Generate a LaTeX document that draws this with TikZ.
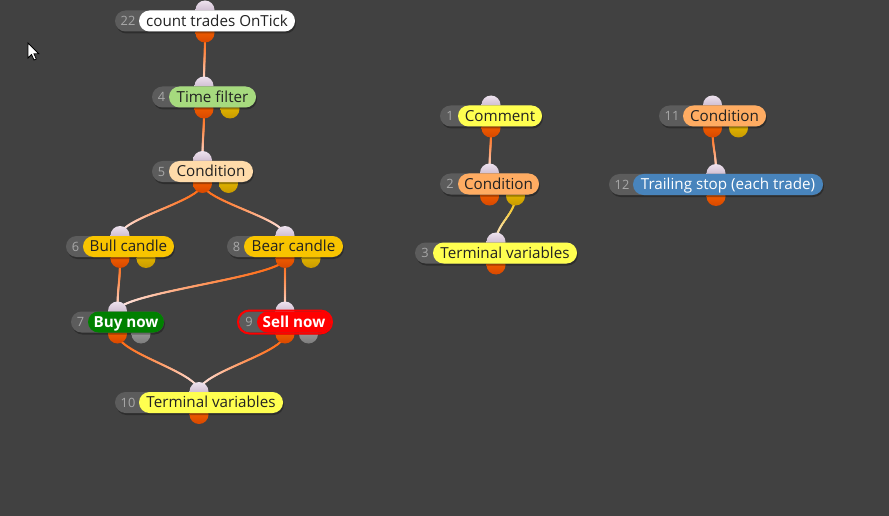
\documentclass[tikz,border=0pt]{standalone}
\usepackage{fontspec}
\setmainfont{Open Sans}
\usetikzlibrary{decorations.markings,calc}
\definecolor{bgc}{HTML}{414141}
\definecolor{numgray}{HTML}{5C5C5C}
\definecolor{numtxt}{HTML}{A8A8A8}
\definecolor{txtdark}{HTML}{222222}
\definecolor{cGreenL}{HTML}{A6DA7E}
\definecolor{cPeach}{HTML}{FFDBAA}
\definecolor{cGold}{HTML}{F8C400}
\definecolor{cGreen}{HTML}{008000}
\definecolor{cRed}{HTML}{FF0000}
\definecolor{cYellow}{HTML}{FFFF50}
\definecolor{cOrange}{HTML}{FFAC62}
\definecolor{cBlue}{HTML}{4884BC}
\definecolor{edgeOr}{HTML}{FF6A12}
\definecolor{edgeYel}{HTML}{F2C418}
\definecolor{edgeEnd}{HTML}{FFEEF0}
\definecolor{inTop}{HTML}{EEE2EE}
\definecolor{inBot}{HTML}{B49EB8}
\definecolor{outTop}{HTML}{FF6A00}
\definecolor{outBot}{HTML}{D84800}
\definecolor{yelTop}{HTML}{F0C400}
\definecolor{yelBot}{HTML}{C89A00}
\definecolor{grTop}{HTML}{A8A8A8}
\definecolor{grBot}{HTML}{7C7C7C}
\pgfdeclarelayer{bgl}
\pgfdeclarelayer{edges}
\pgfsetlayers{bgl,edges,main}
\tikzset{
  circ/.style={circle, minimum size=19pt, inner sep=0pt},
  incirc/.style={circ, top color=inTop, bottom color=inBot},
  outcirc/.style={circ, top color=outTop, bottom color=outBot},
  yelcirc/.style={circ, top color=yelTop, bottom color=yelBot, xshift=1pt},
  graycirc/.style={circ, top color=grTop, bottom color=grBot, xshift=-1.5pt},
  nocirc/.style={circ},
  shadowpill/.style={rectangle, rounded corners=10.5pt, minimum height=21pt, inner sep=0pt, fill=black, fill opacity=0.3},
  numpill/.style={rectangle, rounded corners=10.5pt, minimum height=21pt, inner sep=0pt, fill=numgray},
  labelpill/.style={rectangle, rounded corners=10.5pt, minimum height=21pt, inner sep=0pt, text=txtdark, font=\fontsize{15.2}{18}\selectfont, text height=10.9pt, text depth=0pt},
  numtext/.style={inner sep=0pt, text=numtxt, font=\fontsize{12.8}{15}\selectfont, text height=9.2pt, text depth=0pt},
  gradedge/.style={decorate, decoration={markings, mark=between positions 0 and 1 step 0.4pt with {\pgfmathsetmacro\edget{\pgfkeysvalueof{/pgf/decoration/mark info/distance from start}/\pgfdecoratedpathlength}\pgfmathtruncatemacro\edgepct{100*(1-\edget^1.5)}\fill[#1!\edgepct!edgeEnd] (0,0) circle (1.1pt);}}}
}
\newcommand\flownode[9]{%
  \pgfmathsetmacro\fnW{#5-#3}%
  \pgfmathsetmacro\fnL{#5-#4}%
  \pgfmathsetmacro\fnC{(#4+#5)/2}%
  \pgfmathsetmacro\fnX{(#3+#5)/2}%
  \pgfmathsetmacro\fnN{(#3+#4)/2+1}%
  \node[incirc] (#1i) at (\fnX, #6-11) {};
  \node[outcirc] (#1o) at (\fnX, #6+12) {};
  \node[#9] (#1x) at (\fnX+25, #6+12) {};
  \node[shadowpill, minimum width=\fnW pt] (#1s) at (\fnX+1, #6+2) {};
  \node[numpill, minimum width=\fnW pt] (#1g) at (\fnX, #6) {};
  \node[labelpill, minimum width=\fnL pt, #7] (#1) at (\fnC, #6) {#8};
  \node[numtext] (#1n) at (\fnN, #6) {#2};
}
\newcommand\fedge[4]{%
  \path[gradedge=#3] (#1.center) .. controls +(0,#4) and +(0,-#4) .. (#2.center);
}
\begin{document}
\begin{tikzpicture}[x=1pt,y=-1pt]
\useasboundingbox (0,0) rectangle (889,516);
\begin{pgfonlayer}{bgl}
\fill[bgc] (0,0) rectangle (889,516);
\end{pgfonlayer}
% nodes
\flownode{n22}{22}{115}{139}{295}{21}{fill=white}{count trades OnTick}{nocirc}
\flownode{n4}{4}{152}{169}{256}{97}{fill=cGreenL}{Time filter}{yelcirc}
\flownode{n5}{5}{152}{169}{253}{171.5}{fill=cPeach}{Condition}{yelcirc}
\flownode{n6}{6}{66}{83}{174}{246.5}{fill=cGold}{Bull candle}{yelcirc}
\flownode{n8}{8}{227}{244}{343}{246.5}{fill=cGold}{Bear candle}{yelcirc}
\flownode{n7}{7}{71}{88}{164}{322}{fill=cGreen, text=white, font=\fontsize{15.2}{18}\selectfont\bfseries}{Buy now}{graycirc}
\flownode{n9}{9}{239}{257}{331}{322}{fill=cRed, text=white, font=\fontsize{15.2}{18}\selectfont\bfseries}{Sell now}{graycirc}
\node[draw=cRed, line width=2pt, rounded corners=11.5pt, minimum width=94pt, minimum height=23pt, inner sep=0pt] (n9ring) at (285,322) {};
\flownode{n10}{10}{115}{139}{283}{402.5}{fill=cYellow}{Terminal variables}{nocirc}
\flownode{n1}{1}{440}{458}{542}{116}{fill=cYellow}{Comment}{nocirc}
\flownode{n2}{2}{440}{458}{539}{184}{fill=cOrange}{Condition}{yelcirc}
\flownode{n3}{3}{415}{433}{577}{253}{fill=cYellow}{Terminal variables}{nocirc}
\flownode{n11}{11}{659}{683}{766}{116}{fill=cOrange}{Condition}{yelcirc}
\flownode{n12}{12}{609}{633}{823}{184.5}{fill=cBlue, text=white}{Trailing stop (each trade)}{nocirc}
% edges
\begin{pgfonlayer}{edges}
\fedge{n22o}{n4i}{edgeOr}{25}
\fedge{n4o}{n5i}{edgeOr}{25}
\fedge{n5o}{n6i}{edgeOr}{17}
\fedge{n5o}{n8i}{edgeOr}{17}
\fedge{n6o}{n7i}{edgeOr}{26}
\fedge{n8o}{n7i}{edgeOr}{18}
\fedge{n8o}{n9i}{edgeOr}{26}
\fedge{n7o}{n10i}{edgeOr}{19}
\fedge{n9o}{n10i}{edgeOr}{19}
\fedge{n1o}{n2i}{edgeOr}{22}
\fedge{n2x}{n3i}{edgeYel}{18}
\fedge{n11o}{n12i}{edgeOr}{22}
\end{pgfonlayer}
% mouse cursor
\filldraw[fill=white, draw=black, line width=0.8pt, line join=miter] (28,43) -- (28,58) -- (31.5,54.5) -- (34,60) -- (36.3,59) -- (34,53.8) -- (38.8,53.8) -- cycle;
\end{tikzpicture}
\end{document}
